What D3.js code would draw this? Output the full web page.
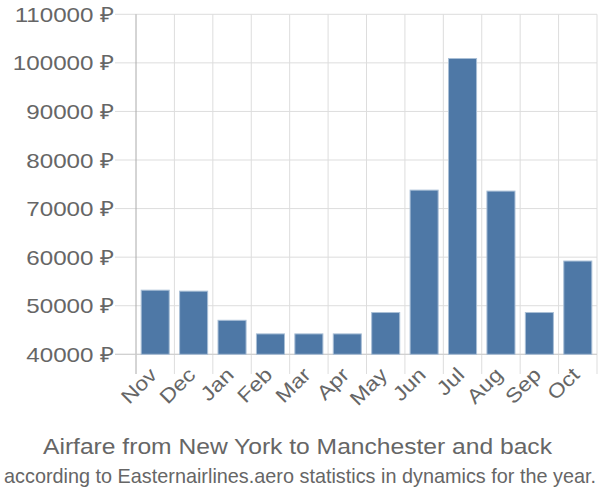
<!DOCTYPE html>
<html><head><meta charset="utf-8">
<script src="https://cdn.jsdelivr.net/npm/d3@7"></script>
<style>body{margin:0;background:#fff}svg{display:block}text{font-family:"Liberation Sans",Arial,sans-serif}</style>
</head><body>
<svg id="c" width="600" height="500"></svg>
<script>
const months = ["Nov","Dec","Jan","Feb","Mar","Apr","May","Jun","Jul","Aug","Sep","Oct"];
const prices = [53200,53000,47000,44200,44200,44200,48600,73800,100900,73600,48600,59200];
const yTicks = [40000,50000,60000,70000,80000,90000,100000,110000];

const svg = d3.select("#c");
const pLeft = 136, pRight = 597, pTop = 14.3, pBottom = 354.3;
const x = d3.scaleBand().domain(months).range([pLeft, pRight]).paddingInner(0.27).paddingOuter(0.135);
const xb = d3.scaleBand().domain(months).range([pLeft, pRight]);
const y = d3.scaleLinear().domain([40000,110000]).range([pBottom, pTop]);

function stretch(sel, k) {
  sel.each(function() {
    const w = this.getComputedTextLength();
    this.setAttribute("textLength", w * k);
    this.setAttribute("lengthAdjust", "spacingAndGlyphs");
  });
}

// horizontal gridlines
svg.append("g").selectAll("line").data(yTicks).join("line")
  .attr("x1", 115).attr("x2", pRight).attr("y1", d=>y(d)).attr("y2", d=>y(d))
  .attr("stroke", "#dddddd").attr("stroke-width", 1);
// vertical gridlines
const vb = months.map(m=>xb(m)+xb.bandwidth());
svg.append("g").selectAll("line").data(vb).join("line")
  .attr("x1", d=>d).attr("x2", d=>d).attr("y1", pTop).attr("y2", 374)
  .attr("stroke", "#dddddd").attr("stroke-width", 1);
// left axis line
svg.append("line").attr("x1", pLeft).attr("x2", pLeft).attr("y1", pTop).attr("y2", 374)
  .attr("stroke", "#aaaaaa").attr("stroke-width", 1);
// baseline
svg.append("line").attr("x1", 115).attr("x2", pRight).attr("y1", pBottom).attr("y2", pBottom)
  .attr("stroke", "#cccccc").attr("stroke-width", 1);

// bars
svg.append("g").selectAll("rect").data(months).join("rect")
  .attr("x", (d)=>x(d)).attr("width", x.bandwidth())
  .attr("y", (d,i)=>y(prices[i])).attr("height", (d,i)=>pBottom - y(prices[i]))
  .attr("fill", "#4e78a6").attr("stroke", "#a9bfd6").attr("stroke-width", 1);

// y labels
svg.append("g").selectAll("text").data(yTicks).join("text")
  .attr("x", 114).attr("y", d=>y(d)).attr("dy", "0.36em")
  .attr("text-anchor", "end").attr("fill", "#666").attr("font-size", 21)
  .text(d=>d + " \u20BD")
  .call(stretch, 1.15);

// x labels
svg.append("g").selectAll("text").data(months).join("text")
  .attr("transform", d=>`translate(${xb(d)+xb.bandwidth()/2+3},${376}) rotate(-45)`)
  .attr("text-anchor", "end").attr("fill", "#666").attr("font-size", 20)
  .text(d=>d)
  .call(stretch, 1.15);

svg.append("text").attr("x", 297.5).attr("y", 454).attr("text-anchor", "middle")
  .attr("fill", "#666").attr("font-size", 22)
  .attr("textLength", 509).attr("lengthAdjust", "spacingAndGlyphs")
  .text("Airfare from New York to Manchester and back");
svg.append("text").attr("transform", "translate(300,483) scale(1,1.1)")
  .attr("x", 0).attr("y", 0).attr("text-anchor", "middle")
  .attr("fill", "#666").attr("font-size", 19)
  .attr("textLength", 592).attr("lengthAdjust", "spacingAndGlyphs")
  .text("according to Easternairlines.aero statistics in dynamics for the year.");
</script>
</body></html>
